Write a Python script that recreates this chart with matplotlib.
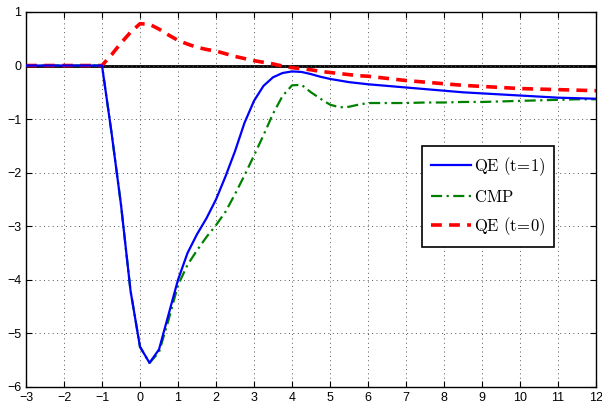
import numpy as np
import matplotlib
matplotlib.use("Agg")
import matplotlib.pyplot as plt

plt.rcParams['font.family'] = ['Liberation Sans', 'DejaVu Sans']
plt.rcParams['mathtext.fontset'] = 'cm'

# horizon (quarters)
x = [-3, -1, -0.75, -0.5, -0.25, 0, 0.25, 0.5, 0.75, 1, 1.25, 1.5, 1.75, 2,
     2.25, 2.5, 2.75, 3, 3.25, 3.5, 3.75, 4, 4.25, 4.5, 4.75, 5, 5.25, 5.5,
     5.75, 6, 6.5, 7, 7.5, 8, 8.5, 9, 9.5, 10, 10.5, 11, 11.5, 12]

qe_t1 = [0, 0, -1.25, -2.6, -4.2, -5.25, -5.55, -5.3, -4.65, -4.0, -3.5,
         -3.15, -2.85, -2.5, -2.07, -1.6, -1.07, -0.66, -0.38, -0.22, -0.14,
         -0.11, -0.12, -0.16, -0.21, -0.25, -0.28, -0.31, -0.33, -0.35, -0.38,
         -0.41, -0.44, -0.47, -0.5, -0.52, -0.54, -0.56, -0.58, -0.6, -0.61,
         -0.62]

cmp_ = [0, 0, -1.25, -2.6, -4.2, -5.25, -5.55, -5.35, -4.75, -4.1, -3.72,
        -3.45, -3.2, -2.98, -2.73, -2.4, -2.05, -1.68, -1.3, -0.9, -0.57,
        -0.37, -0.36, -0.5, -0.62, -0.73, -0.78, -0.77, -0.73, -0.7, -0.7,
        -0.7, -0.69, -0.69, -0.68, -0.68, -0.67, -0.66, -0.65, -0.64, -0.63,
        -0.63]

qe_t0 = [0, 0, 0.2, 0.42, 0.62, 0.78, 0.77, 0.68, 0.57, 0.47, 0.4, 0.34,
         0.3, 0.27, 0.22, 0.17, 0.13, 0.09, 0.06, 0.03, -0.01, -0.04, -0.06,
         -0.08, -0.11, -0.13, -0.15, -0.17, -0.19, -0.2, -0.24, -0.28, -0.31,
         -0.34, -0.37, -0.39, -0.41, -0.43, -0.44, -0.45, -0.46, -0.47]

labels = [r'$\mathrm{QE\ (t\!=\!1)}$', r'$\mathrm{CMP}$', r'$\mathrm{QE\ (t\!=\!0)}$']

fig = plt.figure(figsize=(6.02, 4.09), dpi=100)
ax = fig.add_axes([0.0432, 0.0538, 0.9468, 0.917])

ax.axhline(0, color='black', lw=2, zorder=1)
ax.plot(x, qe_t1, color='blue', lw=1.6, label=labels[0], zorder=3)
ax.plot(x, cmp_, color='green', lw=1.6, ls='-.', dashes=(5, 2, 1, 2),
        label=labels[1], zorder=2)
ax.plot(x, qe_t0, color='red', lw=2.6, ls='--', dashes=(3, 2),
        label=labels[2], zorder=2)

ax.set_xlim(-3, 12)
ax.set_ylim(-6, 1)
ax.set_xticks(np.arange(-3, 13, 1))
ax.set_yticks(np.arange(-6, 2, 1))
ax.grid(True, ls=(0, (1, 3.5)), color='#555555', lw=0.7)
ax.tick_params(direction='in', top=True, right=True, labelsize=9, length=4,
               width=0.8)
for s in ax.spines.values():
    s.set_linewidth(1.0)

leg = ax.legend(loc='upper left', bbox_to_anchor=(0.694, 0.643), fontsize=12,
                handlelength=2.4, handletextpad=0.2, labelspacing=0.65,
                borderpad=0.55, borderaxespad=0, fancybox=False, framealpha=1,
                edgecolor='black')
leg.get_frame().set_linewidth(1.2)

fig.savefig("out.png", dpi=100)
